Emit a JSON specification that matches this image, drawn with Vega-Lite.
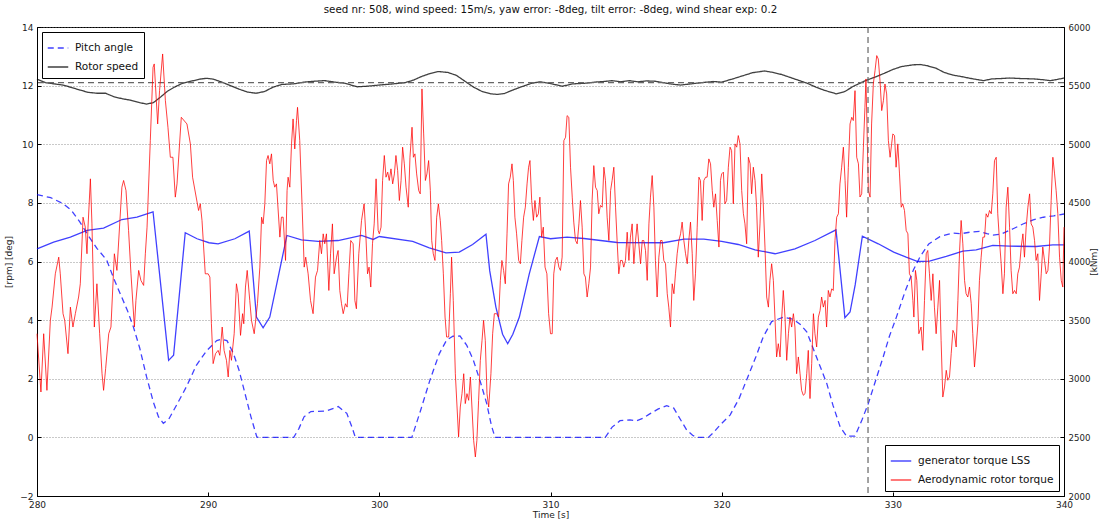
{
"$schema": "https://vega.github.io/schema/vega-lite/v6.json",
"width": 1027, "height": 469,
"autosize": {"type": "none"},
"padding": {"left": 37, "top": 27, "right": 38, "bottom": 25},
"background": "white",
"config": {
  "font": "DejaVu Sans",
  "view": {"stroke": "#000", "strokeWidth": 1},
  "axis": {"labelFont": "DejaVu Sans", "labelFontSize": 9, "labelColor": "#222", "labelFlush": false, "labelOverlap": false, "titleFont": "DejaVu Sans", "titleFontSize": 9, "titleFontWeight": "normal", "titleColor": "#222", "domainColor": "#000", "tickColor": "#000", "tickSize": -4, "labelPadding": 8, "grid": false},
  "legend": {"labelFont": "DejaVu Sans", "labelFontSize": 10.5, "labelColor": "#111", "symbolType": "stroke", "symbolSize": 420, "symbolStrokeWidth": 1.4, "symbolOpacity": 0.75, "strokeColor": "#000", "fillColor": "#fff", "padding": 5, "rowPadding": 2, "labelOffset": 6, "offset": 5}
},
"title": {"text": "seed nr: 508, wind speed: 15m/s, yaw error: -8deg, tilt error: -8deg, wind shear exp: 0.2", "fontSize": 10.3, "fontWeight": "normal", "font": "DejaVu Sans", "color": "#111", "anchor": "middle", "frame": "group", "offset": 8},
"datasets": {
"pitch": [
{"t":280,"v":8.28},{"t":280.8,"v":8.18},{"t":281.5,"v":7.98},{"t":282,"v":7.75},{"t":282.5,"v":7.35},{"t":283,"v":6.88},{"t":283.5,"v":6.45},{"t":284.07,"v":6.05},{"t":284.5,"v":5.4},{"t":284.9,"v":4.85},{"t":285.3,"v":4.3},{"t":285.63,"v":3.77},{"t":286,"v":3.05},{"t":286.4,"v":2.07},{"t":286.8,"v":1.2},{"t":287.1,"v":0.7},{"t":287.38,"v":0.48},{"t":287.7,"v":0.62},{"t":288.2,"v":1.15},{"t":288.75,"v":1.75},{"t":289.3,"v":2.45},{"t":289.9,"v":2.95},{"t":290.5,"v":3.3},{"t":290.8,"v":3.35},{"t":291.1,"v":3.3},{"t":291.47,"v":2.87},{"t":291.8,"v":2.3},{"t":292.05,"v":1.73},{"t":292.5,"v":0.7},{"t":292.84,"v":0.02},{"t":292.9,"v":0},{"t":295,"v":0},{"t":295.3,"v":0.3},{"t":295.6,"v":0.7},{"t":296,"v":0.88},{"t":296.9,"v":0.9},{"t":297.6,"v":1.05},{"t":298.1,"v":0.82},{"t":298.4,"v":0.35},{"t":298.6,"v":0},{"t":301.9,"v":0},{"t":302.4,"v":0.9},{"t":302.96,"v":1.96},{"t":303.5,"v":2.85},{"t":303.93,"v":3.32},{"t":304.3,"v":3.45},{"t":304.71,"v":3.46},{"t":305.1,"v":3.15},{"t":305.49,"v":2.64},{"t":305.9,"v":1.9},{"t":306.27,"v":1.16},{"t":306.55,"v":0.4},{"t":306.76,"v":0},{"t":313.2,"v":0},{"t":313.6,"v":0.35},{"t":314.06,"v":0.57},{"t":314.64,"v":0.6},{"t":315,"v":0.56},{"t":315.4,"v":0.65},{"t":315.8,"v":0.8},{"t":316.3,"v":0.97},{"t":316.79,"v":1.08},{"t":317.2,"v":1.0},{"t":317.6,"v":0.6},{"t":317.96,"v":0.25},{"t":318.3,"v":0.07},{"t":318.54,"v":0},{"t":319.22,"v":0},{"t":319.5,"v":0.15},{"t":319.9,"v":0.42},{"t":320.49,"v":0.76},{"t":321,"v":1.3},{"t":321.46,"v":1.96},{"t":322,"v":2.75},{"t":322.43,"v":3.43},{"t":322.92,"v":3.95},{"t":323.6,"v":4.1},{"t":324.19,"v":4.03},{"t":324.6,"v":3.85},{"t":324.97,"v":3.6},{"t":325.5,"v":2.8},{"t":326.14,"v":1.84},{"t":326.5,"v":1.1},{"t":326.92,"v":0.36},{"t":327.3,"v":0.04},{"t":327.79,"v":0.04},{"t":328.2,"v":0.6},{"t":328.57,"v":1.16},{"t":329,"v":1.95},{"t":329.44,"v":2.75},{"t":329.8,"v":3.45},{"t":330.22,"v":4.12},{"t":330.7,"v":4.95},{"t":331.2,"v":5.71},{"t":331.59,"v":6.16},{"t":332.1,"v":6.6},{"t":332.75,"v":6.85},{"t":333.5,"v":6.97},{"t":334,"v":6.95},{"t":334.5,"v":7.0},{"t":335.06,"v":7.03},{"t":335.5,"v":6.95},{"t":335.85,"v":6.9},{"t":336.3,"v":6.93},{"t":337,"v":7.11},{"t":337.6,"v":7.28},{"t":338.2,"v":7.42},{"t":338.8,"v":7.51},{"t":339.4,"v":7.56},{"t":340,"v":7.62}
],
"rotor": [
{"t":280,"v":12.22},{"t":280.5,"v":12.1},{"t":281,"v":12.06},{"t":281.5,"v":12.02},{"t":282,"v":11.94},{"t":282.5,"v":11.85},{"t":283,"v":11.77},{"t":283.5,"v":11.74},{"t":284,"v":11.74},{"t":284.5,"v":11.62},{"t":285,"v":11.55},{"t":285.5,"v":11.5},{"t":286,"v":11.42},{"t":286.4,"v":11.37},{"t":286.8,"v":11.42},{"t":287.2,"v":11.6},{"t":287.6,"v":11.8},{"t":288,"v":11.94},{"t":288.5,"v":12.08},{"t":289,"v":12.15},{"t":289.5,"v":12.22},{"t":289.9,"v":12.25},{"t":290.3,"v":12.22},{"t":290.8,"v":12.12},{"t":291.3,"v":12.0},{"t":291.8,"v":11.88},{"t":292.3,"v":11.78},{"t":292.8,"v":11.74},{"t":293.3,"v":11.8},{"t":293.8,"v":11.95},{"t":294.3,"v":12.04},{"t":295,"v":12.06},{"t":295.6,"v":12.12},{"t":296.2,"v":12.15},{"t":296.8,"v":12.17},{"t":297.4,"v":12.12},{"t":298,"v":12.08},{"t":298.7,"v":11.96},{"t":299.3,"v":11.98},{"t":300,"v":12.02},{"t":300.8,"v":12.06},{"t":301.5,"v":12.1},{"t":302,"v":12.19},{"t":302.5,"v":12.32},{"t":303,"v":12.42},{"t":303.45,"v":12.48},{"t":304,"v":12.45},{"t":304.5,"v":12.35},{"t":305,"v":12.15},{"t":305.5,"v":11.95},{"t":306,"v":11.8},{"t":306.5,"v":11.72},{"t":306.9,"v":11.7},{"t":307.3,"v":11.73},{"t":307.8,"v":11.85},{"t":308.3,"v":11.96},{"t":308.9,"v":12.08},{"t":309.4,"v":12.13},{"t":310,"v":12.07},{"t":310.7,"v":11.98},{"t":311.3,"v":12.06},{"t":312,"v":12.08},{"t":312.6,"v":12.12},{"t":313.1,"v":12.14},{"t":313.6,"v":12.17},{"t":314.1,"v":12.13},{"t":314.6,"v":12.17},{"t":315.1,"v":12.13},{"t":315.6,"v":12.16},{"t":316.1,"v":12.15},{"t":316.6,"v":12.1},{"t":317.1,"v":12.05},{"t":317.6,"v":12.02},{"t":318.2,"v":12.06},{"t":318.8,"v":12.1},{"t":319.5,"v":12.14},{"t":320,"v":12.12},{"t":320.6,"v":12.22},{"t":321.2,"v":12.33},{"t":321.8,"v":12.44},{"t":322.5,"v":12.5},{"t":323,"v":12.45},{"t":323.5,"v":12.38},{"t":324,"v":12.28},{"t":324.5,"v":12.18},{"t":325,"v":12.08},{"t":325.5,"v":11.95},{"t":326,"v":11.84},{"t":326.7,"v":11.72},{"t":327.2,"v":11.8},{"t":327.7,"v":11.98},{"t":328.4,"v":12.17},{"t":329,"v":12.3},{"t":329.5,"v":12.42},{"t":330,"v":12.55},{"t":330.5,"v":12.65},{"t":331.2,"v":12.71},{"t":331.6,"v":12.72},{"t":332,"v":12.68},{"t":332.5,"v":12.6},{"t":333,"v":12.45},{"t":333.5,"v":12.36},{"t":334,"v":12.31},{"t":334.5,"v":12.25},{"t":335,"v":12.2},{"t":335.3,"v":12.17},{"t":335.8,"v":12.23},{"t":336.3,"v":12.24},{"t":336.8,"v":12.26},{"t":337.5,"v":12.24},{"t":338.2,"v":12.23},{"t":338.8,"v":12.2},{"t":339.2,"v":12.17},{"t":339.6,"v":12.21},{"t":340,"v":12.26}
],
"gen": [
{"t":280,"v":4108},{"t":280.97,"v":4165},{"t":281.95,"v":4208},{"t":282.92,"v":4265},{"t":283.89,"v":4284},{"t":284.96,"v":4358},{"t":285.84,"v":4378},{"t":286.78,"v":4424},{"t":287.69,"v":3157},{"t":287.98,"v":3200},{"t":288.66,"v":4245},{"t":289.35,"v":4194},{"t":290.05,"v":4160},{"t":290.58,"v":4151},{"t":291.56,"v":4194},{"t":292.4,"v":4259},{"t":292.82,"v":3526},{"t":293.21,"v":3435},{"t":293.6,"v":3526},{"t":294.09,"v":3867},{"t":294.6,"v":4222},{"t":295.45,"v":4185},{"t":296.43,"v":4171},{"t":297.59,"v":4179},{"t":298.96,"v":4222},{"t":299.64,"v":4188},{"t":300,"v":4213},{"t":301.95,"v":4171},{"t":302.92,"v":4117},{"t":303.89,"v":4074},{"t":304.67,"v":4080},{"t":305.45,"v":4145},{"t":306.23,"v":4233},{"t":306.45,"v":3920},{"t":306.81,"v":3611},{"t":307.2,"v":3380},{"t":307.5,"v":3299},{"t":307.8,"v":3380},{"t":308.18,"v":3526},{"t":308.76,"v":3895},{"t":309.35,"v":4213},{"t":310,"v":4194},{"t":310.97,"v":4208},{"t":311.95,"v":4196},{"t":313.9,"v":4162},{"t":316.6,"v":4160},{"t":317.8,"v":4191},{"t":318.96,"v":4191},{"t":320,"v":4171},{"t":320.97,"v":4145},{"t":321.95,"v":4100},{"t":323.12,"v":4066},{"t":324.28,"v":4108},{"t":325.45,"v":4179},{"t":326.68,"v":4270},{"t":327.2,"v":3521},{"t":327.5,"v":3569},{"t":327.8,"v":3800},{"t":328.22,"v":4216},{"t":329.15,"v":4151},{"t":330.05,"v":4080},{"t":330.78,"v":4037},{"t":331.46,"v":4000},{"t":332.14,"v":4003},{"t":333.12,"v":4043},{"t":334.09,"v":4088},{"t":334.87,"v":4100},{"t":335.84,"v":4137},{"t":336.81,"v":4131},{"t":338.37,"v":4128},{"t":339.35,"v":4142},{"t":340,"v":4142}
],
"aero": [
{"t":280.00,"v":3384},{"t":280.23,"v":2887},{"t":280.39,"v":3384},{"t":280.58,"v":2901},{"t":280.78,"v":3498},{"t":280.88,"v":3611},{"t":281.07,"v":3895},{"t":281.27,"v":4037},{"t":281.36,"v":3895},{"t":281.52,"v":3555},{"t":281.62,"v":3498},{"t":281.81,"v":3214},{"t":281.95,"v":3611},{"t":282.10,"v":3441},{"t":282.24,"v":3555},{"t":282.43,"v":3697},{"t":282.53,"v":3810},{"t":282.69,"v":4378},{"t":282.82,"v":4293},{"t":282.92,"v":4066},{"t":282.98,"v":4293},{"t":283.12,"v":4705},{"t":283.21,"v":4321},{"t":283.35,"v":3441},{"t":283.50,"v":3810},{"t":283.66,"v":3384},{"t":283.80,"v":3043},{"t":283.89,"v":2901},{"t":284.01,"v":3086},{"t":284.19,"v":3384},{"t":284.32,"v":3441},{"t":284.52,"v":4066},{"t":284.67,"v":3924},{"t":284.96,"v":4634},{"t":285.06,"v":4691},{"t":285.20,"v":4605},{"t":285.35,"v":4265},{"t":285.49,"v":3895},{"t":285.69,"v":3441},{"t":285.78,"v":3668},{"t":285.94,"v":3924},{"t":286.07,"v":3839},{"t":286.23,"v":3796},{"t":286.33,"v":4066},{"t":286.43,"v":4293},{"t":286.62,"v":5031},{"t":286.78,"v":5656},{"t":286.85,"v":5685},{"t":287.05,"v":5173},{"t":287.16,"v":5457},{"t":287.34,"v":5770},{"t":287.50,"v":5372},{"t":287.65,"v":5145},{"t":287.79,"v":4889},{"t":287.94,"v":4889},{"t":288.08,"v":4549},{"t":288.18,"v":4662},{"t":288.43,"v":5230},{"t":288.76,"v":5173},{"t":288.96,"v":5003},{"t":289.09,"v":4719},{"t":289.44,"v":4435},{"t":289.54,"v":4492},{"t":289.64,"v":4350},{"t":289.83,"v":3895},
{"t":290.00,"v":3895},{"t":290.10,"v":3867},{"t":290.19,"v":3469},{"t":290.29,"v":3129},{"t":290.43,"v":3214},{"t":290.58,"v":3242},{"t":290.68,"v":3200},{"t":290.82,"v":3441},{"t":290.93,"v":3242},{"t":291.07,"v":3157},{"t":291.17,"v":3015},{"t":291.27,"v":3242},{"t":291.36,"v":3157},{"t":291.52,"v":3384},{"t":291.65,"v":3810},{"t":291.75,"v":3725},{"t":291.89,"v":3370},{"t":292.01,"v":3555},{"t":292.08,"v":3469},{"t":292.18,"v":3782},{"t":292.28,"v":3924},{"t":292.43,"v":3668},{"t":292.53,"v":3498},{"t":292.69,"v":3384},{"t":292.88,"v":3640},{"t":293.02,"v":3952},{"t":293.12,"v":4378},{"t":293.21,"v":4321},{"t":293.31,"v":4492},{"t":293.41,"v":4861},{"t":293.50,"v":4904},{"t":293.60,"v":4833},{"t":293.70,"v":4918},{"t":293.80,"v":4691},{"t":293.89,"v":4634},{"t":293.99,"v":4662},{"t":294.19,"v":4208},{"t":294.28,"v":4378},{"t":294.38,"v":4378},{"t":294.52,"v":4009},{"t":294.61,"v":4605},{"t":294.67,"v":4719},{"t":294.77,"v":4634},{"t":294.87,"v":5003},{"t":294.96,"v":5216},{"t":295.06,"v":4960},{"t":295.16,"v":5202},{"t":295.22,"v":5315},{"t":295.35,"v":5031},{"t":295.49,"v":4463},{"t":295.61,"v":3952},{"t":295.70,"v":4037},{"t":295.84,"v":3895},{"t":295.98,"v":3668},{"t":296.13,"v":3555},{"t":296.27,"v":3867},{"t":296.39,"v":3924},{"t":296.52,"v":4179},{"t":296.62,"v":4066},{"t":296.72,"v":4236},{"t":296.81,"v":4151},{"t":296.91,"v":4236},{"t":297.05,"v":3753},{"t":297.15,"v":4066},{"t":297.26,"v":4321},{"t":297.36,"v":3895},{"t":297.50,"v":4037},{"t":297.59,"v":4094},{"t":297.69,"v":3753},{"t":297.79,"v":3640},{"t":297.89,"v":3555},{"t":298.02,"v":3640},{"t":298.12,"v":3611},{"t":298.22,"v":3895},{"t":298.33,"v":4179},{"t":298.47,"v":4151},{"t":298.57,"v":3668},{"t":298.66,"v":3597},{"t":298.80,"v":4066},{"t":298.96,"v":4350},{"t":299.11,"v":4492},{"t":299.21,"v":4236},{"t":299.31,"v":3895},{"t":299.40,"v":3952},{"t":299.50,"v":3782},{"t":299.60,"v":4151},{"t":299.70,"v":4321},{"t":299.81,"v":4705},{"t":299.93,"v":4265},
{"t":300.00,"v":4236},{"t":300.10,"v":4293},{"t":300.19,"v":4691},{"t":300.29,"v":4904},{"t":300.39,"v":4719},{"t":300.49,"v":4762},{"t":300.58,"v":4691},{"t":300.68,"v":4790},{"t":300.78,"v":4662},{"t":300.88,"v":4747},{"t":300.97,"v":4904},{"t":301.07,"v":4776},{"t":301.17,"v":4520},{"t":301.27,"v":4691},{"t":301.36,"v":4975},{"t":301.46,"v":4833},{"t":301.56,"v":4634},{"t":301.69,"v":4463},{"t":301.79,"v":4889},{"t":301.91,"v":5145},{"t":301.99,"v":4889},{"t":302.08,"v":4918},{"t":302.18,"v":4747},{"t":302.30,"v":4605},{"t":302.39,"v":4577},{"t":302.49,"v":5472},{"t":302.59,"v":5088},{"t":302.69,"v":4691},{"t":302.78,"v":4747},{"t":302.88,"v":4861},{"t":302.98,"v":4605},{"t":303.06,"v":4179},{"t":303.15,"v":4066},{"t":303.25,"v":4009},{"t":303.35,"v":4378},{"t":303.45,"v":4492},{"t":303.56,"v":4350},{"t":303.64,"v":4179},{"t":303.74,"v":3895},{"t":303.84,"v":3526},{"t":303.93,"v":3356},{"t":304.05,"v":3356},{"t":304.15,"v":3725},{"t":304.22,"v":4037},{"t":304.32,"v":3668},{"t":304.44,"v":3043},{"t":304.54,"v":2759},{"t":304.63,"v":2504},{"t":304.73,"v":2759},{"t":304.83,"v":2873},{"t":304.93,"v":3043},{"t":305.02,"v":2788},{"t":305.12,"v":2873},{"t":305.22,"v":2816},{"t":305.32,"v":3015},{"t":305.41,"v":2759},{"t":305.51,"v":2475},{"t":305.61,"v":2333},{"t":305.70,"v":2475},{"t":305.80,"v":2816},{"t":305.90,"v":3157},{"t":306.00,"v":3327},{"t":306.09,"v":3498},{"t":306.19,"v":3327},{"t":306.29,"v":2873},{"t":306.39,"v":2759},{"t":306.52,"v":3043},{"t":306.62,"v":3384},{"t":306.72,"v":3555},{"t":306.85,"v":3555},{"t":306.97,"v":3526},{"t":307.07,"v":3839},{"t":307.16,"v":4009},{"t":307.26,"v":3924},{"t":307.36,"v":3810},{"t":307.46,"v":4236},{"t":307.55,"v":4662},{"t":307.65,"v":4719},{"t":307.75,"v":4833},{"t":307.83,"v":4691},{"t":307.92,"v":4378},{"t":308.02,"v":4236},{"t":308.14,"v":4009},{"t":308.24,"v":3981},{"t":308.33,"v":4179},{"t":308.43,"v":4378},{"t":308.53,"v":4463},{"t":308.63,"v":4662},{"t":308.72,"v":4804},{"t":308.80,"v":4861},{"t":308.90,"v":4520},{"t":309.00,"v":4350},{"t":309.09,"v":4520},{"t":309.19,"v":4378},{"t":309.29,"v":4407},{"t":309.38,"v":4549},{"t":309.48,"v":4208},{"t":309.58,"v":4293},{"t":309.68,"v":3952},{"t":309.79,"v":3895},{"t":309.89,"v":3555},
{"t":310.00,"v":3384},{"t":310.10,"v":3384},{"t":310.19,"v":3895},{"t":310.29,"v":4009},{"t":310.39,"v":4037},{"t":310.49,"v":3952},{"t":310.58,"v":3924},{"t":310.68,"v":4037},{"t":310.78,"v":5031},{"t":310.88,"v":5060},{"t":310.97,"v":5244},{"t":311.07,"v":5230},{"t":311.17,"v":4804},{"t":311.27,"v":4549},{"t":311.36,"v":4336},{"t":311.46,"v":4179},{"t":311.56,"v":4151},{"t":311.66,"v":4321},{"t":311.75,"v":4520},{"t":311.85,"v":4293},{"t":311.95,"v":3895},{"t":312.04,"v":3867},{"t":312.14,"v":3697},{"t":312.24,"v":3810},{"t":312.34,"v":3952},{"t":312.43,"v":4520},{"t":312.53,"v":4818},{"t":312.63,"v":4634},{"t":312.73,"v":4605},{"t":312.82,"v":4407},{"t":312.92,"v":4478},{"t":313.02,"v":4463},{"t":313.12,"v":4804},{"t":313.21,"v":4691},{"t":313.31,"v":4378},{"t":313.41,"v":4179},{"t":313.51,"v":4605},{"t":313.60,"v":4691},{"t":313.70,"v":4804},{"t":313.80,"v":4463},{"t":313.90,"v":4151},{"t":313.99,"v":3895},{"t":314.09,"v":4009},{"t":314.19,"v":4009},{"t":314.28,"v":3952},{"t":314.38,"v":4009},{"t":314.48,"v":4250},{"t":314.58,"v":4009},{"t":314.67,"v":4208},{"t":314.77,"v":4321},{"t":314.87,"v":3981},{"t":314.97,"v":4179},{"t":315.06,"v":4321},{"t":315.16,"v":4151},{"t":315.26,"v":3981},{"t":315.36,"v":4179},{"t":315.45,"v":4179},{"t":315.55,"v":4094},{"t":315.65,"v":3839},{"t":315.75,"v":4321},{"t":315.84,"v":4549},{"t":315.94,"v":4733},{"t":316.04,"v":4463},{"t":316.13,"v":4009},{"t":316.23,"v":3697},{"t":316.33,"v":4037},{"t":316.43,"v":4179},{"t":316.52,"v":4179},{"t":316.62,"v":4009},{"t":316.72,"v":3981},{"t":316.82,"v":3725},{"t":316.91,"v":3611},{"t":317.01,"v":3441},{"t":317.11,"v":3810},{"t":317.21,"v":3725},{"t":317.30,"v":3895},{"t":317.40,"v":4066},{"t":317.50,"v":4179},{"t":317.60,"v":4236},{"t":317.69,"v":4336},{"t":317.79,"v":4179},{"t":317.89,"v":4066},{"t":317.99,"v":3981},{"t":318.08,"v":4179},{"t":318.18,"v":4336},{"t":318.28,"v":4066},{"t":318.37,"v":3668},{"t":318.47,"v":3895},{"t":318.57,"v":4293},{"t":318.67,"v":4719},{"t":318.76,"v":4691},{"t":318.86,"v":4350},{"t":318.96,"v":4691},{"t":319.06,"v":4719},{"t":319.15,"v":4719},{"t":319.25,"v":4875},{"t":319.35,"v":4833},{"t":319.45,"v":4605},{"t":319.54,"v":4463},{"t":319.64,"v":4577},{"t":319.74,"v":4350},{"t":319.84,"v":4123},{"t":319.93,"v":4691},
{"t":320.00,"v":4747},{"t":320.10,"v":4762},{"t":320.19,"v":4492},{"t":320.29,"v":4520},{"t":320.39,"v":4804},{"t":320.49,"v":4975},{"t":320.58,"v":4946},{"t":320.68,"v":4492},{"t":320.78,"v":5003},{"t":320.88,"v":4975},{"t":320.97,"v":5074},{"t":321.07,"v":5003},{"t":321.17,"v":4605},{"t":321.27,"v":4407},{"t":321.36,"v":4321},{"t":321.46,"v":4151},{"t":321.56,"v":4889},{"t":321.66,"v":4833},{"t":321.75,"v":4577},{"t":321.85,"v":4804},{"t":321.95,"v":4691},{"t":322.04,"v":4463},{"t":322.14,"v":4037},{"t":322.24,"v":4321},{"t":322.34,"v":4747},{"t":322.43,"v":4492},{"t":322.53,"v":4123},{"t":322.63,"v":3697},{"t":322.73,"v":3611},{"t":322.82,"v":3839},{"t":322.92,"v":3981},{"t":323.02,"v":3839},{"t":323.12,"v":3498},{"t":323.21,"v":3186},{"t":323.31,"v":3299},{"t":323.41,"v":3186},{"t":323.51,"v":3526},{"t":323.60,"v":3753},{"t":323.70,"v":3526},{"t":323.80,"v":3157},{"t":323.90,"v":3384},{"t":323.99,"v":3526},{"t":324.09,"v":3441},{"t":324.19,"v":3555},{"t":324.28,"v":3441},{"t":324.38,"v":3043},{"t":324.48,"v":3186},{"t":324.58,"v":3043},{"t":324.67,"v":2901},{"t":324.77,"v":2859},{"t":324.87,"v":2873},{"t":324.97,"v":3043},{"t":325.06,"v":3242},{"t":325.16,"v":2831},{"t":325.26,"v":3129},{"t":325.36,"v":3555},{"t":325.45,"v":3384},{"t":325.55,"v":3271},{"t":325.65,"v":3526},{"t":325.75,"v":3583},{"t":325.84,"v":3697},{"t":325.94,"v":3611},{"t":326.04,"v":3668},{"t":326.13,"v":3441},{"t":326.23,"v":3753},{"t":326.33,"v":3697},{"t":326.43,"v":3767},{"t":326.52,"v":3753},{"t":326.62,"v":4179},{"t":326.72,"v":4378},{"t":326.82,"v":4407},{"t":326.91,"v":4662},{"t":327.01,"v":4804},{"t":327.11,"v":4975},{"t":327.21,"v":4691},{"t":327.30,"v":4378},{"t":327.40,"v":4804},{"t":327.50,"v":5173},{"t":327.60,"v":5230},{"t":327.69,"v":5202},{"t":327.79,"v":5457},{"t":327.89,"v":4889},{"t":327.99,"v":4833},{"t":328.08,"v":4550},{"t":328.18,"v":4577},{"t":328.28,"v":4975},{"t":328.37,"v":5315},{"t":328.43,"v":5557},{"t":328.57,"v":4605},{"t":328.67,"v":4549},{"t":328.76,"v":5173},{"t":328.86,"v":5514},{"t":328.96,"v":5628},{"t":329.06,"v":5756},{"t":329.15,"v":5727},{"t":329.25,"v":5543},{"t":329.35,"v":5287},{"t":329.45,"v":5372},{"t":329.54,"v":5514},{"t":329.64,"v":5429},{"t":329.74,"v":5031},{"t":329.84,"v":4889},{"t":329.93,"v":5003},
{"t":330.00,"v":5088},{"t":330.10,"v":5074},{"t":330.19,"v":4804},{"t":330.29,"v":5003},{"t":330.39,"v":4747},{"t":330.49,"v":4463},{"t":330.58,"v":4492},{"t":330.68,"v":4435},{"t":330.78,"v":4265},{"t":330.88,"v":4236},{"t":330.97,"v":3895},{"t":331.07,"v":3867},{"t":331.17,"v":3668},{"t":331.23,"v":3526},{"t":331.32,"v":3924},{"t":331.40,"v":3839},{"t":331.52,"v":3384},{"t":331.65,"v":3441},{"t":331.75,"v":3242},{"t":331.85,"v":3668},{"t":331.95,"v":4066},{"t":332.04,"v":4094},{"t":332.14,"v":3895},{"t":332.24,"v":3668},{"t":332.34,"v":3895},{"t":332.43,"v":3611},{"t":332.53,"v":3384},{"t":332.63,"v":3611},{"t":332.73,"v":3839},{"t":332.82,"v":3327},{"t":332.92,"v":2844},{"t":333.02,"v":2930},{"t":333.12,"v":3072},{"t":333.21,"v":2987},{"t":333.31,"v":3015},{"t":333.41,"v":3214},{"t":333.51,"v":3413},{"t":333.60,"v":3384},{"t":333.70,"v":3271},{"t":333.80,"v":3668},{"t":333.90,"v":4094},{"t":333.99,"v":4350},{"t":334.09,"v":4151},{"t":334.19,"v":3839},{"t":334.28,"v":3725},{"t":334.38,"v":3697},{"t":334.48,"v":3782},{"t":334.58,"v":3640},{"t":334.67,"v":3384},{"t":334.77,"v":3100},{"t":334.87,"v":3271},{"t":334.97,"v":3469},{"t":335.06,"v":3839},{"t":335.16,"v":4037},{"t":335.26,"v":4208},{"t":335.36,"v":4208},{"t":335.45,"v":4407},{"t":335.55,"v":4378},{"t":335.65,"v":4435},{"t":335.75,"v":4407},{"t":335.84,"v":4577},{"t":335.94,"v":4861},{"t":336.04,"v":4889},{"t":336.13,"v":4407},{"t":336.23,"v":4179},{"t":336.33,"v":3981},{"t":336.43,"v":3725},{"t":336.52,"v":3895},{"t":336.62,"v":4463},{"t":336.72,"v":4634},{"t":336.82,"v":4293},{"t":336.91,"v":3924},{"t":337.01,"v":3725},{"t":337.11,"v":3753},{"t":337.21,"v":3725},{"t":337.30,"v":3895},{"t":337.40,"v":3952},{"t":337.50,"v":4123},{"t":337.60,"v":4236},{"t":337.69,"v":4037},{"t":337.79,"v":4293},{"t":337.89,"v":4463},{"t":337.99,"v":4577},{"t":338.08,"v":4321},{"t":338.18,"v":4293},{"t":338.28,"v":4179},{"t":338.37,"v":4009},{"t":338.47,"v":4066},{"t":338.57,"v":3668},{"t":338.67,"v":3895},{"t":338.76,"v":4123},{"t":338.86,"v":4009},{"t":338.96,"v":3895},{"t":339.06,"v":3924},{"t":339.15,"v":4123},{"t":339.25,"v":4520},{"t":339.35,"v":4889},{"t":339.45,"v":4747},{"t":339.54,"v":4605},{"t":339.64,"v":4407},{"t":339.74,"v":4037},{"t":339.84,"v":3839},{"t":339.93,"v":3782},{"t":340.00,"v":4293}
]
},
"layer": [
  {
    "layer": [
      {
        "data": {"name": "pitch"},
        "mark": {"type": "line", "strokeWidth": 1.3, "opacity": 0.75},
        "encoding": {
          "x": {"field": "t", "type": "quantitative", "scale": {"domain": [280, 340], "nice": false, "zero": false}, "axis": {"values": [280, 290, 300, 310, 320, 330, 340], "format": "d", "title": "Time [s]", "titlePadding": 1, "labelPadding": 8}},
          "y": {"field": "v", "type": "quantitative", "scale": {"domain": [-2, 14], "nice": false, "zero": false}, "axis": {"orient": "left", "values": [-2, 0, 2, 4, 6, 8, 10, 12, 14], "format": "d", "title": "[rpm] [deg]", "titlePadding": 6, "grid": true, "gridDash": [1, 2], "gridColor": "#777", "gridWidth": 0.8}},
          "color": {"datum": "Pitch angle", "type": "nominal", "scale": {"domain": ["Pitch angle", "Rotor speed"], "range": ["#0000ff", "#000000"]}, "legend": {"title": null, "orient": "top-left"}},
          "strokeDash": {"datum": "Pitch angle", "type": "nominal", "scale": {"domain": ["Pitch angle", "Rotor speed"], "range": [[6, 4], [1, 0]]}, "legend": {"title": null, "orient": "top-left"}}
        }
      },
      {
        "data": {"name": "rotor"},
        "mark": {"type": "line", "strokeWidth": 1.3, "opacity": 0.75},
        "encoding": {
          "x": {"field": "t", "type": "quantitative"},
          "y": {"field": "v", "type": "quantitative"},
          "color": {"datum": "Rotor speed", "type": "nominal"},
          "strokeDash": {"datum": "Rotor speed", "type": "nominal"}
        }
      },
      {
        "data": {"values": [{}]},
        "mark": {"type": "rule", "color": "#666", "strokeDash": [6, 4], "strokeWidth": 1.2},
        "encoding": {"y": {"datum": 12.1}}
      }
    ]
  },
  {
    "layer": [
      {
        "data": {"name": "gen"},
        "mark": {"type": "line", "strokeWidth": 1.3, "opacity": 0.75},
        "encoding": {
          "x": {"field": "t", "type": "quantitative"},
          "y": {"field": "v", "type": "quantitative", "scale": {"domain": [2000, 6000], "nice": false, "zero": false}, "axis": {"orient": "right", "values": [2000, 2500, 3000, 3500, 4000, 4500, 5000, 5500, 6000], "format": "d", "title": "[kNm]", "titleAngle": 270, "titlePadding": 9, "labelFontSize": 8.6}},
          "color": {"datum": "generator torque LSS", "type": "nominal", "scale": {"domain": ["generator torque LSS", "Aerodynamic rotor torque"], "range": ["#0000ff", "#ff0000"]}, "legend": {"title": null, "orient": "bottom-right"}}
        }
      },
      {
        "data": {"name": "aero"},
        "mark": {"type": "line", "strokeWidth": 1, "opacity": 0.75},
        "encoding": {
          "x": {"field": "t", "type": "quantitative"},
          "y": {"field": "v", "type": "quantitative"},
          "color": {"datum": "Aerodynamic rotor torque", "type": "nominal"}
        }
      }
    ]
  },
  {
    "data": {"values": [{}]},
    "mark": {"type": "rule", "color": "#666", "strokeDash": [6, 4], "strokeWidth": 1.2},
    "encoding": {"x": {"datum": 328.55}}
  }
],
"resolve": {"scale": {"y": "independent", "color": "independent", "strokeDash": "independent"}}
}
